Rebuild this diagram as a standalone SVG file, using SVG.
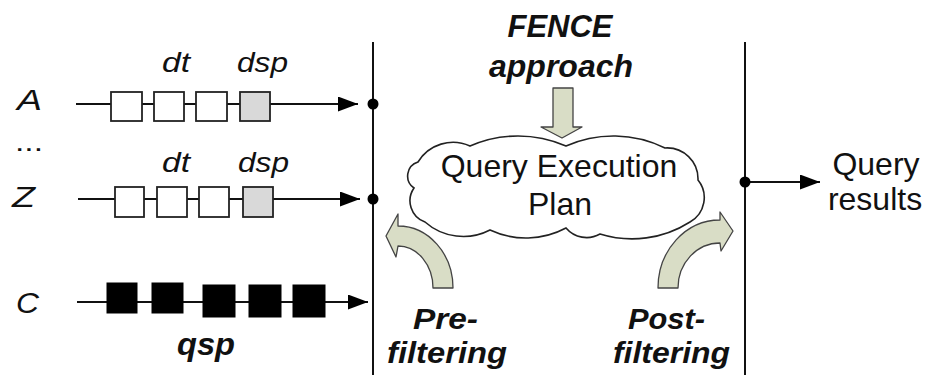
<svg xmlns="http://www.w3.org/2000/svg" width="926" height="375" viewBox="0 0 926 375">
  <style>
    .lbl { font-family: "Liberation Sans", Arial, sans-serif; fill: #111; }
    .it { font-style: italic; }
    .bi { font-style: italic; font-weight: bold; }
    .wire { stroke: #111; stroke-width: 2; fill: none; }
    .box { fill: #fff; stroke: #222; stroke-width: 1.8; }
    .dsp { fill: #d9d9d9; stroke: #222; stroke-width: 1.8; }
    .qsp { fill: #000; stroke: #000; stroke-width: 1; }
    .fat { fill: #d9ddc6; stroke: #444; stroke-width: 1.3; stroke-linejoin: round; }
    .dot { fill: #000; }
  </style>
  <defs>
    <marker id="tip" markerUnits="userSpaceOnUse" markerWidth="21" markerHeight="16" refX="20" refY="7.5" orient="auto">
      <path d="M0,0 L20,7.5 L0,15 Z" fill="#000"/>
    </marker>
  </defs>

  <rect width="926" height="375" fill="#fff"/>

  <!-- connectors: stream lines, boundary bars, output -->
  <g id="connectors">
    <line class="wire" x1="373" y1="42" x2="373" y2="375"/>
    <line class="wire" x1="745" y1="42" x2="745" y2="375"/>
    <line class="wire" x1="76" y1="104" x2="358" y2="104" marker-end="url(#tip)"/>
    <line class="wire" x1="78" y1="199" x2="360" y2="199" marker-end="url(#tip)"/>
    <line class="wire" x1="77" y1="302" x2="368" y2="302" marker-end="url(#tip)"/>
    <line class="wire" x1="745" y1="182" x2="820" y2="182" marker-end="url(#tip)"/>
    <circle class="dot" cx="373" cy="104" r="5.5"/>
    <circle class="dot" cx="373" cy="199" r="5.5"/>
    <circle class="dot" cx="745" cy="182" r="5.5"/>
  </g>

  <!-- stream A -->
  <g id="streamA">
    <text class="lbl it" x="17" y="110" font-size="30" textLength="25" lengthAdjust="spacingAndGlyphs">A</text>
    <text class="lbl it" x="162" y="72" font-size="27" textLength="28" lengthAdjust="spacingAndGlyphs">dt</text>
    <text class="lbl it" x="237" y="72" font-size="27" textLength="51" lengthAdjust="spacingAndGlyphs">dsp</text>
    <rect class="box" x="111" y="92" width="31" height="29"/>
    <rect class="box" x="154" y="92" width="30" height="29"/>
    <rect class="box" x="196" y="92" width="31" height="29"/>
    <rect class="dsp" x="240" y="92" width="30" height="29"/>
  </g>

  <text class="lbl" x="15" y="151" font-size="26" textLength="28" lengthAdjust="spacingAndGlyphs">...</text>

  <!-- stream Z -->
  <g id="streamZ">
    <text class="lbl it" x="12" y="207" font-size="30" textLength="23" lengthAdjust="spacingAndGlyphs">Z</text>
    <text class="lbl it" x="162" y="172" font-size="27" textLength="28" lengthAdjust="spacingAndGlyphs">dt</text>
    <text class="lbl it" x="238" y="172" font-size="27" textLength="51" lengthAdjust="spacingAndGlyphs">dsp</text>
    <rect class="box" x="115" y="187" width="29" height="30"/>
    <rect class="box" x="157" y="187" width="30" height="30"/>
    <rect class="box" x="199" y="187" width="30" height="30"/>
    <rect class="dsp" x="243" y="187" width="30" height="30"/>
  </g>

  <!-- stream C (query stream) -->
  <g id="streamC">
    <text class="lbl it" x="16" y="313" font-size="30" textLength="23" lengthAdjust="spacingAndGlyphs">C</text>
    <rect class="qsp" x="107" y="283" width="30" height="30"/>
    <rect class="qsp" x="152" y="283" width="31" height="30"/>
    <rect class="qsp" x="203" y="285" width="32" height="32"/>
    <rect class="qsp" x="249" y="285" width="32" height="32"/>
    <rect class="qsp" x="293" y="285" width="32" height="32"/>
    <text class="lbl bi" x="177" y="355" font-size="31" textLength="58" lengthAdjust="spacingAndGlyphs">qsp</text>
  </g>

  <!-- FENCE approach feeding the plan -->
  <g id="fence">
    <text class="lbl bi" x="560" y="37" font-size="31" text-anchor="middle">FENCE</text>
    <text class="lbl bi" x="561" y="77" font-size="32" text-anchor="middle">approach</text>
    <path class="fat" d="M553,88 L573,88 L573,127 L582,127 L562,138 L541,127 L553,127 Z"/>
  </g>

  <!-- query execution plan cloud -->
  <g id="plan">
    <path d="M418,162 A41,41 0 0,1 470,146 A120,120 0 0,1 566,146 A117,117 0 0,1 665,148 A31,31 0 0,1 698,180 A28,28 0 0,1 690,222 A108,108 0 0,1 600,234 A27,27 0 0,1 566,228 A85,85 0 0,1 490,230 A58,58 0 0,1 425,222 A22.5,22.5 0 0,1 414,188 A14.6,14.6 0 0,1 418,162 Z" fill="#fff" stroke="#222" stroke-width="1.6"/>
    <text class="lbl" x="559" y="177" font-size="32" text-anchor="middle">Query Execution</text>
    <text class="lbl" x="560" y="215" font-size="32" text-anchor="middle">Plan</text>
  </g>

  <!-- pre-filtering -->
  <g id="prefilter">
    <path class="fat" d="M433,288 L453,288 A55,62 0 0,0 398,226 L398,214 L386,236 L396,257 L398,246 A35,42 0 0,1 433,288 Z"/>
    <text class="lbl bi" x="413" y="329" font-size="29" textLength="65" lengthAdjust="spacingAndGlyphs">Pre-</text>
    <text class="lbl bi" x="387" y="363" font-size="29" textLength="120" lengthAdjust="spacingAndGlyphs">filtering</text>
  </g>

  <!-- post-filtering -->
  <g id="postfilter">
    <path class="fat" d="M658,288 A62,68 0 0,1 720,220 L720,212 L733,231 L721,251 L720,243 A42,45 0 0,0 678,288 Z"/>
    <text class="lbl bi" x="628" y="329" font-size="29" textLength="77" lengthAdjust="spacingAndGlyphs">Post-</text>
    <text class="lbl bi" x="613" y="363" font-size="29" textLength="117" lengthAdjust="spacingAndGlyphs">filtering</text>
  </g>

  <!-- output -->
  <g id="results">
    <text class="lbl" x="876" y="175" font-size="32" text-anchor="middle">Query</text>
    <text class="lbl" x="875" y="210" font-size="32" text-anchor="middle">results</text>
  </g>
</svg>
